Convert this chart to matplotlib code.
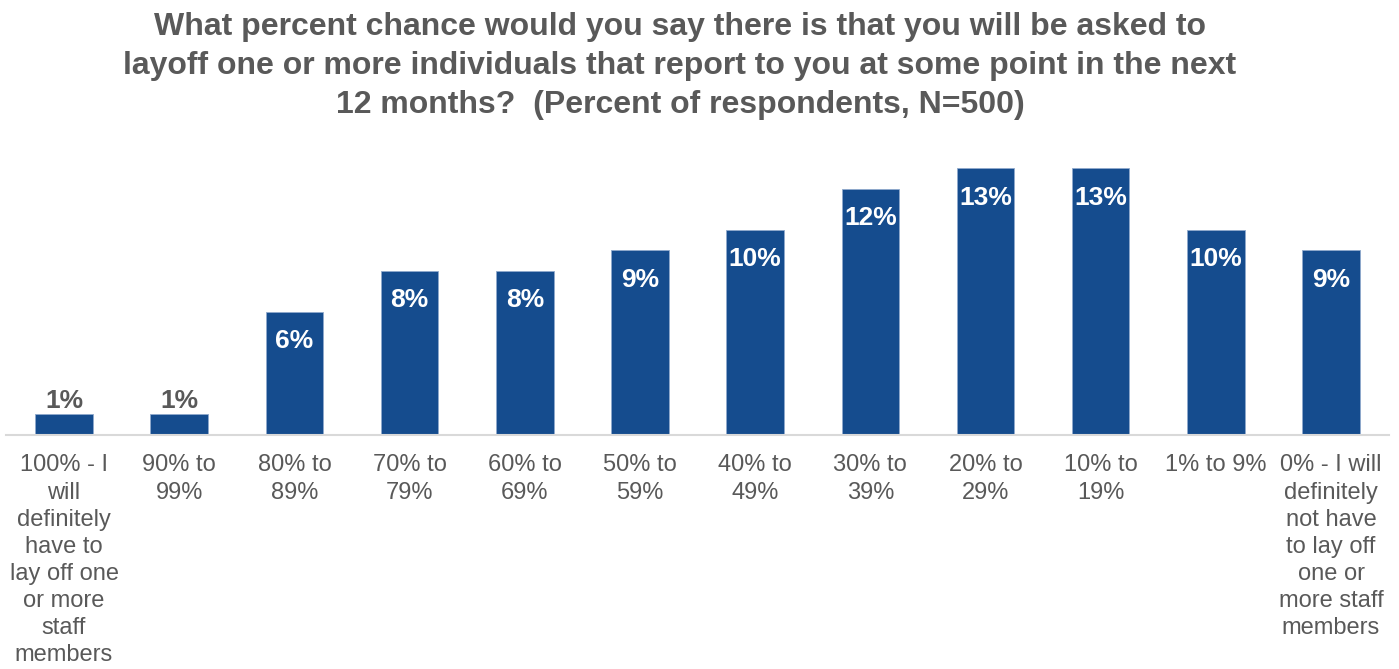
import matplotlib.pyplot as plt

# Categorias e percentuais de respondentes
categorias = [
    "100% - I\nwill\ndefinitely\nhave to\nlay off one\nor more\nstaff\nmembers",
    "90% to\n99%",
    "80% to\n89%",
    "70% to\n79%",
    "60% to\n69%",
    "50% to\n59%",
    "40% to\n49%",
    "30% to\n39%",
    "20% to\n29%",
    "10% to\n19%",
    "1% to 9%",
    "0% - I will\ndefinitely\nnot have\nto lay off\none or\nmore staff\nmembers",
]
percentuais = [1, 1, 6, 8, 8, 9, 10, 12, 13, 13, 10, 9]

titulo = ("What percent chance would you say there is that you will be asked to\n"
          "layoff one or more individuals that report to you at some point in the next\n"
          "12 months?  (Percent of respondents, N=500)")

AZUL = "#154C8E"
CINZA = "#595959"

plt.rcParams['font.family'] = ['Liberation Sans', 'DejaVu Sans']

fig = plt.figure(figsize=(13.99, 6.69), dpi=100)
ax = fig.add_axes([0.0046, 0.3498, 0.988, 0.429])

x = list(range(len(percentuais)))
barras = ax.bar(x, percentuais, width=0.5, color=AZUL, edgecolor="#8FA9CC", linewidth=0.6)

ax.set_xlim(-0.5, len(percentuais) - 0.5)
ax.set_ylim(0, 14)

# rotulos: dentro da barra quando cabe, acima quando a barra e pequena
for xi, v in zip(x, percentuais):
    if v >= 2:
        ax.annotate(f"{v}%", (xi, v), xytext=(0, -21), textcoords="offset points",
                    ha="center", va="center", color="white", fontsize=19, fontweight="bold")
    else:
        ax.annotate(f"{v}%", (xi, v), xytext=(0, 9.5), textcoords="offset points",
                    ha="center", va="center", color=CINZA, fontsize=19, fontweight="bold")

ax.set_xticks(x)
ax.set_xticklabels(categorias, fontsize=17, color=CINZA, linespacing=1.3)
ax.tick_params(axis="x", length=0, pad=14)
ax.set_yticks([])

for lado in ["top", "right", "left"]:
    ax.spines[lado].set_visible(False)
ax.spines["bottom"].set_color("#D9D9D9")
ax.spines["bottom"].set_linewidth(1.5)

fig.text(0.486, 0.982, titulo, ha="center", va="top", fontsize=23, fontweight="bold",
         color=CINZA, linespacing=1.39)

plt.savefig("out.png", dpi=100)
plt.close()
